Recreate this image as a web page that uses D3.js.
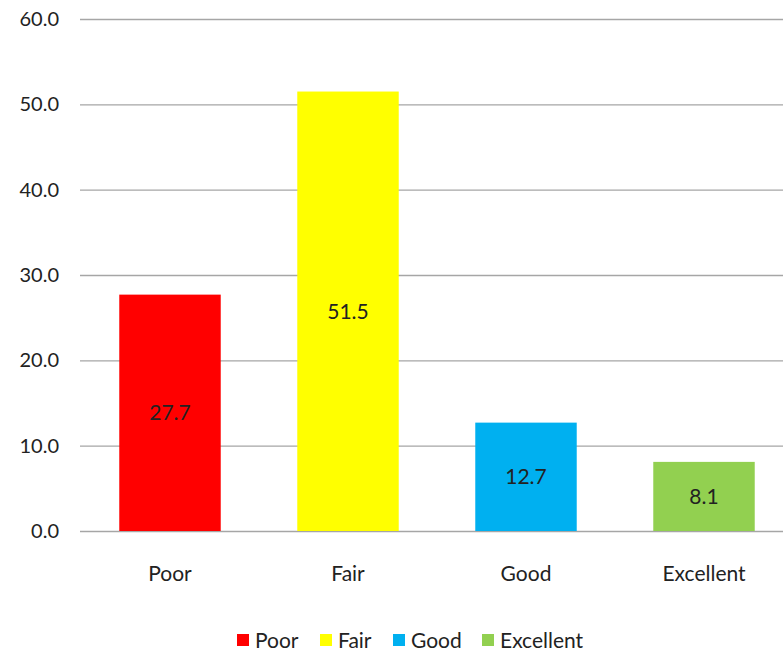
<!DOCTYPE html>
<html>
<head>
<meta charset="utf-8">
<script src="https://cdn.jsdelivr.net/npm/d3@7"></script>
<style>
  html, body { margin: 0; padding: 0; background: #fff; }
  svg text { font-family: Lato, "Open Sans", sans-serif; fill: #222; }
</style>
</head>
<body>
<svg id="chart" width="783" height="652"></svg>
<script>
const categories = ["Poor", "Fair", "Good", "Excellent"];
const values = [27.7, 51.5, 12.7, 8.1];
const colors = ["#ff0000", "#ffff00", "#00b0f0", "#92d050"];
const yTicks = [0, 10, 20, 30, 40, 50, 60];

(function () {
  const svg = d3.select("#chart");
  const plotLeft = 81, plotRight = 793, plotTop = 19, plotBottom = 531;
  const font = "Lato, 'Open Sans', sans-serif";

  const x = d3.scaleBand().domain(categories).range([plotLeft, plotRight]).paddingInner(0.43).paddingOuter(0.215);
  const y = d3.scaleLinear().domain([0, 60]).range([plotBottom, plotTop]);

  // horizontal gridlines
  svg.append("g").selectAll("line").data(yTicks).join("line")
    .attr("x1", 80).attr("x2", 783)
    .attr("y1", d => y(d) + 0.5).attr("y2", d => y(d) + 0.5)
    .attr("stroke", "#a6a6a6").attr("stroke-width", 1.3);

  // y axis labels
  const yAxis = d3.axisLeft(y).tickValues(yTicks).tickFormat(d3.format(".1f")).tickSize(0).tickPadding(0);
  const gy = svg.append("g").attr("transform", "translate(59,0)").call(yAxis);
  gy.select(".domain").remove();
  gy.selectAll("text").attr("font-size", 20).attr("font-family", font).attr("fill", "#222");

  // bars
  svg.append("g").selectAll("rect").data(values).join("rect")
    .attr("x", (d, i) => x(categories[i]))
    .attr("width", x.bandwidth())
    .attr("y", d => y(d))
    .attr("height", d => y(0) - y(d))
    .attr("fill", (d, i) => colors[i]);

  // value labels centred in each bar
  svg.append("g").selectAll("text").data(values).join("text")
    .attr("x", (d, i) => x(categories[i]) + x.bandwidth() / 2)
    .attr("y", d => (y(d) + y(0)) / 2)
    .attr("dy", "0.35em")
    .attr("text-anchor", "middle")
    .attr("font-size", 21)
    .text(d => d.toFixed(1));

  // category axis
  const xAxis = d3.axisBottom(x).tickSize(0).tickPadding(0);
  const gx = svg.append("g").attr("transform", `translate(0,${plotBottom + 35})`).call(xAxis);
  gx.select(".domain").remove();
  gx.selectAll("text").attr("font-size", 21).attr("font-family", font).attr("fill", "#222");

  // legend
  const legendX = [237, 320, 393, 482];
  const lg = svg.append("g").selectAll("g").data(categories).join("g")
    .attr("transform", (d, i) => `translate(${legendX[i]},634)`);
  lg.append("rect").attr("width", 12).attr("height", 12).attr("fill", (d, i) => colors[i]);
  lg.append("text").attr("x", 18).attr("y", 6).attr("dy", "0.36em")
    .attr("font-size", 21).text(d => d);
})();
</script>
</body>
</html>
